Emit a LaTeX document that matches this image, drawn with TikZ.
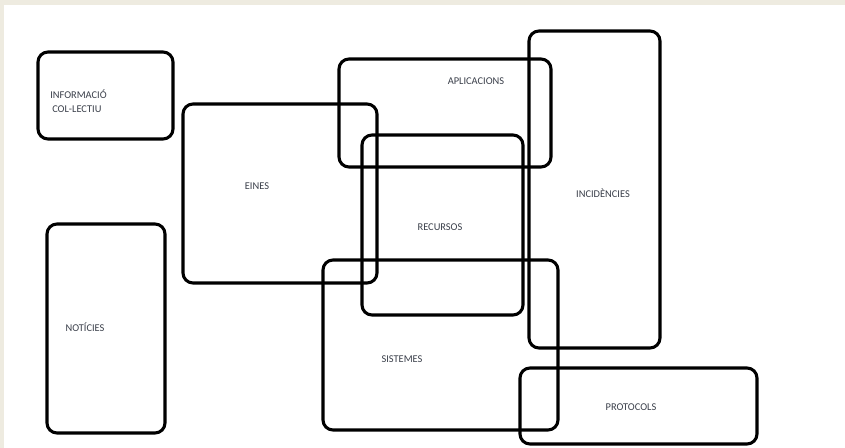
\documentclass[tikz,border=0pt]{standalone}
\usepackage{fontspec}
\setmainfont{Carlito}
\definecolor{frame}{HTML}{EEEBE0}
\definecolor{labeltext}{HTML}{3A3F4A}

\begin{document}
\begin{tikzpicture}[x=0.75pt,y=-0.75pt,
  box/.style 2 args={draw,line width=2.3pt,rounded corners=7.5pt,inner sep=0pt,
    minimum width=#1*0.75pt,minimum height=#2*0.75pt},
  lbl/.style={font=\fontsize{7.8}{10.5}\selectfont,text=labeltext,inner sep=0pt}]
  % page and frame strips
  \useasboundingbox (0,0) rectangle (845,448);
  \fill[white] (0,0) rectangle (845,448);
  \fill[frame] (0,0) rectangle (845,5);
  \fill[frame] (0,0) rectangle (4,448);

  % boxes
  \node[box={135}{87}] (info) at (105.5,95.5) {};
  \node[box={118}{209}] (noticies) at (106,328.5) {};
  \node[box={194}{179}] (eines) at (280,193.5) {};
  \node[box={212}{108}] (aplicacions) at (445,113) {};
  \node[box={161}{180}] (recursos) at (442.5,225) {};
  \node[box={131}{317}] (incidencies) at (594.5,189.5) {};
  \node[box={235}{170}] (sistemes) at (440.5,345) {};
  \node[box={237}{76}] (protocols) at (638.5,406) {};

  % labels
  \node[lbl,anchor=west,align=left] (infotext) at (50,101) {INFORMACIÓ\\\hspace{1.5pt}COL-LECTIU};
  \node[lbl] (noticiestext) at (85,327) {NOTÍCIES};
  \node[lbl] (einestext) at (257,186) {EINES};
  \node[lbl] (aplicacionstext) at (476,81) {APLICACIONS};
  \node[lbl] (recursostext) at (440,227) {RECURSOS};
  \node[lbl] (incidenciestext) at (603,193) {INCIDÈNCIES};
  \node[lbl] (sistemestext) at (402,359) {SISTEMES};
  \node[lbl] (protocolstext) at (631,407) {PROTOCOLS};
\end{tikzpicture}
\end{document}
